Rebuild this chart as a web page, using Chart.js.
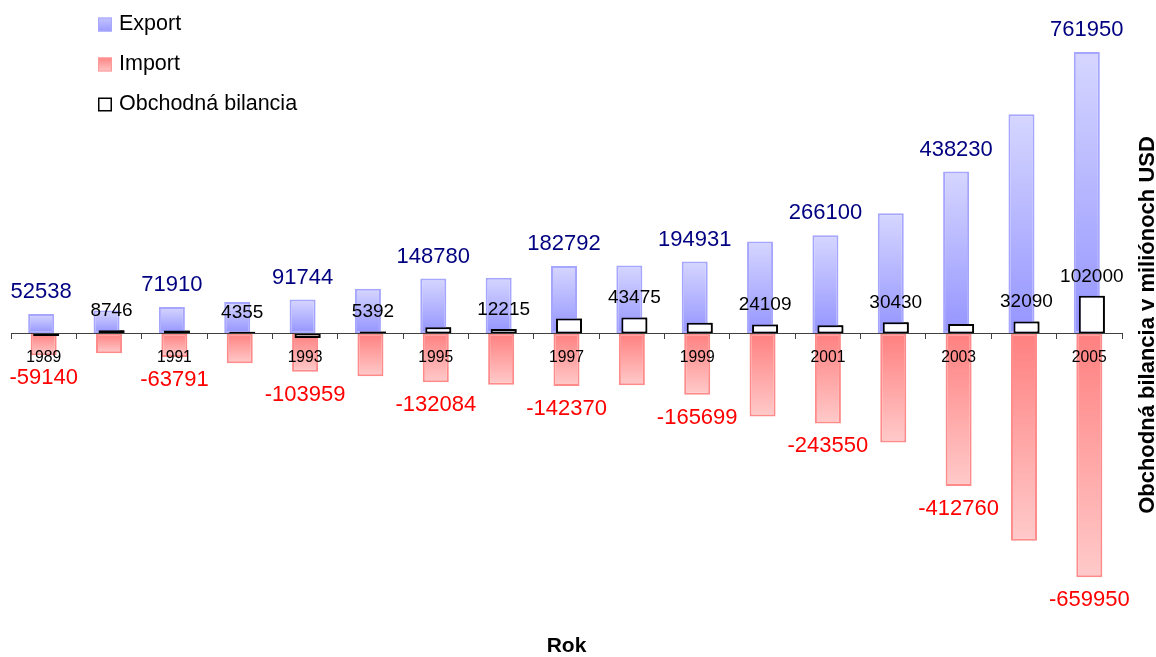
<!DOCTYPE html>
<html lang="sk">
<head>
<meta charset="utf-8">
<title>Zahraničný obchod 1989–2005</title>
<script src="https://cdn.jsdelivr.net/npm/chart.js@4.4.1/dist/chart.umd.min.js"></script>
<style>
  html, body { margin: 0; padding: 0; background: #ffffff; }
  #wrap { width: 1156px; height: 657px; }
</style>
</head>
<body>
<div id="wrap"><canvas id="c" width="1156" height="657"></canvas></div>
<script>
// Trade values in millions of USD
const years = ['1989','1990','1991','1992','1993','1994','1995','1996','1997',
               '1998','1999','2000','2001','2002','2003','2004','2005'];
const exportValues  = [52538, 62091, 71910, 84940, 91744, 121006, 148780, 151048, 182792,
                       183712, 194931, 249203, 266100, 325600, 438230, 593320, 761950];
const importValues  = [-59140, -53345, -63791, -80585, -103959, -115614, -132084, -138833, -142370,
                       -140237, -165699, -225094, -243550, -295170, -412760, -561230, -659950];
const balanceValues = [-6602, 8746, 8119, 4355, -12215, 5392, 16696, 12215, 40422,
                       43475, 29232, 24109, 22550, 30430, 25470, 32090, 102000];

// Which years get a printed tick label / value label
const tickYears          = ['1989','1991','1993','1995','1997','1999','2001','2003','2005'];
const exportLabelYears   = ['1989','1991','1993','1995','1997','1999','2001','2003','2005'];
const importLabelYears   = ['1989','1991','1993','1995','1997','1999','2001','2003','2005'];
const balanceLabelYears  = ['1990','1992','1994','1996','1998','2000','2002','2004','2005'];

const seriesNames = ['Export', 'Import', 'Obchodná bilancia'];
const FONT = 'Arial, "Liberation Sans", sans-serif';
Chart.defaults.font.family = FONT;

// Vertical gradient spanning one bar, from its value end to the zero line
function barGradient(outer, inner) {
  return (c) => {
    const chart = c.chart;
    const ys = chart.scales && chart.scales.y;
    if (!chart.chartArea || !ys || c.raw === undefined) return inner;
    const yv = ys.getPixelForValue(c.raw);
    const y0 = ys.getPixelForValue(0);
    const g = chart.ctx.createLinearGradient(0, yv, 0, y0);
    g.addColorStop(0, outer);
    g.addColorStop(1, inner);
    return g;
  };
}

// Balance bars are drawn again on top of export/import bars
const balanceOnTop = {
  id: 'balanceOnTop',
  afterDatasetsDraw(chart) {
    const meta = chart.getDatasetMeta(2);
    const ctx = chart.ctx;
    const a = chart.chartArea;
    ctx.save();
    ctx.beginPath();
    ctx.rect(a.left, a.top - 2, a.right - a.left, a.bottom - a.top + 4);
    ctx.clip();
    meta.data.forEach(el => el.draw(ctx, a));
    ctx.restore();
  }
};

// Value labels, legend and the rotated right-hand axis title
const annotations = {
  id: 'annotations',
  afterDraw(chart) {
    const ctx = chart.ctx;
    const specs = [
      { ds: 0, show: exportLabelYears,  color: '#000080', size: 22, gap: 22 },
      { ds: 1, show: importLabelYears,  color: '#ff0000', size: 22, gap: 23 },
      { ds: 2, show: balanceLabelYears, color: '#000000', size: 19, gap: 19.5 }
    ];
    ctx.save();
    ctx.textAlign = 'center';
    ctx.textBaseline = 'middle';
    specs.forEach(s => {
      const meta = chart.getDatasetMeta(s.ds);
      const values = chart.data.datasets[s.ds].data;
      ctx.font = s.size + 'px ' + FONT;
      ctx.fillStyle = s.color;
      years.forEach((yr, i) => {
        if (!s.show.includes(yr)) return;
        const el = meta.data[i];
        const v = values[i];
        const y = el.y + (v >= 0 ? -s.gap : s.gap);
        ctx.fillText(String(v), el.x, y);
      });
    });

    // legend
    const rows = [24.5, 64.5, 104.5];
    const sw = 14, sx = 98;
    ctx.textAlign = 'left';
    ctx.font = '21.5px ' + FONT;
    rows.forEach((ry, i) => {
      const top = ry - sw / 2;
      if (i === 2) {
        ctx.fillStyle = '#ffffff';
        ctx.fillRect(sx, top, sw, sw);
        ctx.strokeStyle = '#000000';
        ctx.lineWidth = 1.5;
        ctx.strokeRect(sx + 0.75, top + 0.75, sw - 1.5, sw - 1.5);
      } else {
        const g = ctx.createLinearGradient(0, top, 0, top + sw);
        if (i === 0) { g.addColorStop(0, '#c4c4ff'); g.addColorStop(1, '#9a9aff'); }
        else { g.addColorStop(0, '#ff8484'); g.addColorStop(1, '#ffc4c4'); }
        ctx.fillStyle = g;
        ctx.fillRect(sx, top, sw, sw);
        ctx.strokeStyle = i === 0 ? '#a8a8ff' : '#ff9a9a';
        ctx.lineWidth = 1;
        ctx.strokeRect(sx + 0.5, top + 0.5, sw - 1, sw - 1);
      }
      ctx.fillStyle = '#000000';
      ctx.fillText(seriesNames[i], 119, ry);
    });

    // right axis title, reading bottom to top
    ctx.save();
    ctx.translate(1148, 325);
    ctx.rotate(-Math.PI / 2);
    ctx.textAlign = 'center';
    ctx.textBaseline = 'middle';
    ctx.font = 'bold 22px ' + FONT;
    ctx.fillStyle = '#000000';
    ctx.fillText('Obchodná bilancia v miliónoch USD', 0, 0);
    ctx.restore();

    ctx.restore();
  }
};

const barCommon = {
  borderSkipped: false,
  categoryPercentage: 0.1148,
  barPercentage: 10.4
};

new Chart(document.getElementById('c'), {
  type: 'bar',
  data: {
    labels: years,
    datasets: [
      Object.assign({
        label: seriesNames[0],
        data: exportValues,
        backgroundColor: barGradient('#d6d6ff', '#9494ff'),
        borderColor: '#a6a6ff',
        borderWidth: 2
      }, barCommon),
      Object.assign({
        label: seriesNames[1],
        data: importValues,
        backgroundColor: barGradient('#ffcaca', '#ff8080'),
        borderColor: '#ff8a8a',
        borderWidth: 2
      }, barCommon),
      Object.assign({
        label: seriesNames[2],
        data: balanceValues,
        backgroundColor: '#ffffff',
        borderColor: '#000000',
        borderWidth: 2
      }, barCommon)
    ]
  },
  options: {
    responsive: false,
    animation: false,
    devicePixelRatio: 1,
    layout: { padding: { left: 11, right: 34, top: 38, bottom: 0 } },
    scales: {
      x: {
        position: { y: 0 },
        offset: true,
        grid: {
          display: true,
          offset: true,
          drawOnChartArea: false,
          drawTicks: true,
          tickLength: 5,
          tickColor: '#404040',
          tickWidth: 1,
          z: 1
        },
        border: { display: true, color: '#404040', width: 1, z: 1 },
        ticks: {
          z: 2,
          autoSkip: false,
          maxRotation: 0,
          minRotation: 0,
          padding: 10,
          color: '#000000',
          font: { size: 15.7 },
          callback: function (value, index) {
            const lab = this.getLabelForValue(value);
            return tickYears.includes(lab) ? lab : '';
          }
        }
      },
      y: {
        display: false,
        min: -700000,
        max: 800000
      }
    },
    plugins: {
      legend: { display: false },
      tooltip: { enabled: false },
      title: {
        display: true,
        text: 'Rok',
        position: 'bottom',
        fullSize: false,
        color: '#000000',
        font: { size: 21, weight: 'bold', lineHeight: 1 },
        padding: { top: 44, bottom: 0 }
      }
    }
  },
  plugins: [balanceOnTop, annotations]
});
</script>
</body>
</html>
